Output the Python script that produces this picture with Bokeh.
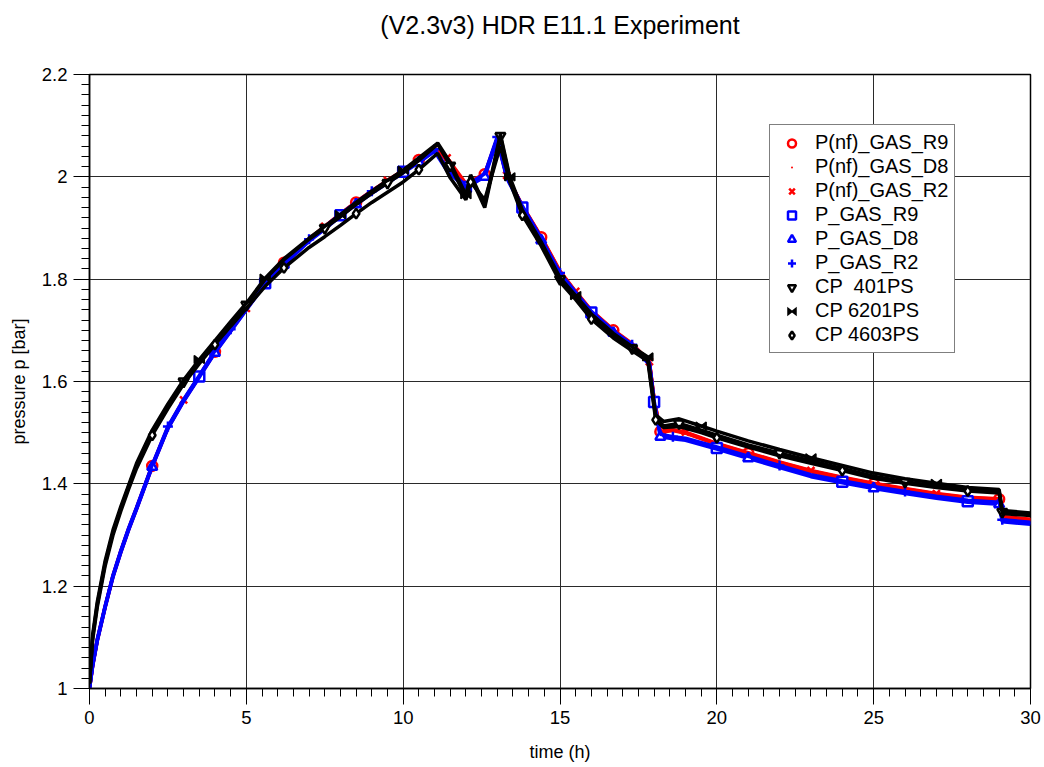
import numpy as np
from bokeh.plotting import figure
from bokeh.models import FixedTicker, Legend, LegendItem, Scatter, CustomJS
from bokeh.embed import file_html
from bokeh.resources import INLINE

TITLE = "(V2.3v3) HDR E11.1 Experiment"
X_LABEL = "time (h)"
Y_LABEL = "pressure p [bar]"
X_TICKS = [0, 5, 10, 15, 20, 25, 30]
X_TICK_LABELS = ["0", "5", "10", "15", "20", "25", "30"]
Y_TICKS = [1.0, 1.2, 1.4, 1.6, 1.8, 2.0, 2.2]
Y_TICK_LABELS = ["1", "1.2", "1.4", "1.6", "1.8", "2", "2.2"]

# simulation time grid (h)
T_SIM = [0.0, 0.1, 0.25, 0.5, 0.75, 1.0, 1.25, 1.5, 2.0, 2.5, 3.0, 3.5, 4.0, 4.5, 5.0,
         5.6, 6.2, 7.0, 7.5, 8.0, 8.5, 9.0, 9.5, 10.0, 10.5, 11.0, 11.4, 12.0, 12.6, 13.0,
         13.3, 13.8, 14.4, 15.0, 15.5, 16.0, 16.7, 17.3, 17.85, 18.0, 18.2, 18.6, 19.0, 20.0, 21.0,
         22.0, 23.0, 24.0, 25.0, 26.0, 27.0, 28.0, 29.0, 29.1, 30.0]

P_NF_GAS_R9 = [1.0, 1.045, 1.095, 1.16, 1.22, 1.268, 1.312, 1.352, 1.435, 1.51, 1.563, 1.61, 1.658, 1.70, 1.742,
               1.793, 1.832, 1.878, 1.902, 1.927, 1.95, 1.972, 1.992, 2.012, 2.033, 2.055, 2.035, 1.985, 2.005, 2.074,
               2.002, 1.943, 1.882, 1.815, 1.775, 1.738, 1.70, 1.673, 1.638, 1.565, 1.502, 1.505, 1.50, 1.478, 1.46,
               1.442, 1.425, 1.412, 1.40, 1.39, 1.38, 1.373, 1.37, 1.335, 1.33]
P_NF_GAS_D8 = [1.0, 1.044, 1.094, 1.159, 1.219, 1.267, 1.311, 1.351, 1.434, 1.509, 1.562, 1.609, 1.657, 1.699, 1.741,
               1.792, 1.831, 1.877, 1.901, 1.926, 1.949, 1.971, 1.991, 2.011, 2.032, 2.054, 2.033, 1.983, 2.004, 2.073,
               2.001, 1.942, 1.881, 1.814, 1.774, 1.737, 1.699, 1.672, 1.637, 1.563, 1.501, 1.504, 1.499, 1.477, 1.459,
               1.441, 1.424, 1.411, 1.399, 1.389, 1.379, 1.372, 1.369, 1.334, 1.329]
P_NF_GAS_R2 = [1.0, 1.046, 1.096, 1.161, 1.221, 1.269, 1.313, 1.353, 1.436, 1.511, 1.564, 1.611, 1.659, 1.701, 1.743,
               1.794, 1.833, 1.879, 1.903, 1.928, 1.951, 1.973, 1.993, 2.013, 2.034, 2.056, 2.037, 1.987, 2.006, 2.075,
               2.003, 1.944, 1.883, 1.816, 1.776, 1.739, 1.701, 1.674, 1.639, 1.566, 1.503, 1.506, 1.501, 1.479, 1.461,
               1.443, 1.426, 1.413, 1.401, 1.391, 1.381, 1.374, 1.371, 1.336, 1.331]
P_GAS_R9 = [1.0, 1.045, 1.095, 1.16, 1.22, 1.268, 1.312, 1.352, 1.435, 1.51, 1.563, 1.61, 1.658, 1.70, 1.742,
            1.792, 1.83, 1.876, 1.90, 1.925, 1.948, 1.97, 1.99, 2.01, 2.03, 2.052, 2.015, 1.98, 2.003, 2.076,
            2.0, 1.94, 1.878, 1.81, 1.772, 1.735, 1.697, 1.67, 1.635, 1.56, 1.495, 1.49, 1.487, 1.47, 1.452,
            1.434, 1.416, 1.404, 1.393, 1.383, 1.374, 1.366, 1.362, 1.328, 1.323]
P_GAS_D8 = [1.0, 1.043, 1.093, 1.158, 1.218, 1.266, 1.31, 1.35, 1.433, 1.508, 1.561, 1.608, 1.656, 1.698, 1.74,
            1.79, 1.828, 1.874, 1.898, 1.923, 1.946, 1.968, 1.988, 2.008, 2.028, 2.05, 2.012, 1.978, 2.0, 2.072,
            1.998, 1.938, 1.876, 1.808, 1.77, 1.733, 1.695, 1.668, 1.633, 1.555, 1.492, 1.488, 1.485, 1.468, 1.45,
            1.432, 1.414, 1.402, 1.391, 1.381, 1.372, 1.364, 1.36, 1.326, 1.321]
P_GAS_R2 = [1.0, 1.047, 1.097, 1.162, 1.222, 1.27, 1.314, 1.354, 1.437, 1.512, 1.565, 1.612, 1.66, 1.702, 1.744,
            1.794, 1.832, 1.878, 1.902, 1.927, 1.95, 1.972, 1.992, 2.012, 2.032, 2.054, 2.018, 1.982, 2.006, 2.078,
            2.003, 1.943, 1.88, 1.812, 1.774, 1.737, 1.699, 1.672, 1.637, 1.562, 1.497, 1.492, 1.489, 1.472, 1.454,
            1.436, 1.418, 1.406, 1.395, 1.385, 1.376, 1.368, 1.364, 1.33, 1.325]

# experiment time grid (h)
T_EXP = [0.0, 0.1, 0.25, 0.5, 0.75, 1.0, 1.25, 1.5, 2.0, 2.5, 3.0, 3.5, 4.0, 4.5, 5.0,
         5.6, 6.2, 7.0, 7.5, 8.0, 8.5, 9.0, 9.5, 10.0, 10.5, 11.1, 11.5, 12.0, 12.15, 12.6,
         13.1, 13.4, 13.8, 14.4, 15.0, 15.5, 16.0, 16.7, 17.3, 17.8, 18.05, 18.3, 18.8, 19.5, 20.0,
         21.0, 22.0, 23.0, 24.0, 25.0, 26.0, 27.0, 28.0, 29.0, 29.1, 30.0]
CP_401PS = [1.01, 1.10, 1.165, 1.245, 1.305, 1.352, 1.395, 1.435, 1.50, 1.552, 1.60, 1.64, 1.677, 1.714, 1.75,
            1.80, 1.838, 1.878, 1.90, 1.922, 1.946, 1.968, 1.988, 2.008, 2.032, 2.064, 2.022, 1.96, 2.0, 1.94,
            2.08, 1.995, 1.93, 1.87, 1.80, 1.765, 1.728, 1.69, 1.665, 1.645, 1.53, 1.513, 1.518, 1.505, 1.495,
            1.476, 1.46, 1.445, 1.43, 1.415, 1.404, 1.396, 1.389, 1.385, 1.345, 1.34]
CP_6201PS = [1.01, 1.105, 1.17, 1.25, 1.31, 1.356, 1.398, 1.44, 1.505, 1.556, 1.603, 1.643, 1.68, 1.717, 1.753,
             1.802, 1.84, 1.88, 1.903, 1.926, 1.95, 1.972, 1.993, 2.013, 2.037, 2.066, 2.028, 1.965, 2.004, 1.945,
             2.083, 2.0, 1.935, 1.873, 1.803, 1.768, 1.732, 1.694, 1.668, 1.648, 1.535, 1.522, 1.527, 1.513, 1.503,
             1.484, 1.467, 1.451, 1.436, 1.421, 1.41, 1.401, 1.393, 1.389, 1.348, 1.343]
CP_4603PS = [1.01, 1.095, 1.16, 1.24, 1.30, 1.347, 1.39, 1.43, 1.495, 1.547, 1.595, 1.635, 1.672, 1.708, 1.743,
             1.786, 1.822, 1.862, 1.883, 1.905, 1.928, 1.95, 1.97, 1.99, 2.014, 2.046, 1.998, 1.955, 1.99, 1.955,
             2.06, 1.99, 1.925, 1.865, 1.795, 1.76, 1.722, 1.685, 1.66, 1.64, 1.525, 1.51, 1.512, 1.50, 1.49,
             1.472, 1.455, 1.44, 1.426, 1.411, 1.401, 1.393, 1.386, 1.382, 1.342, 1.338]

SERIES = [
    ("P(nf)_GAS_R9", T_SIM, P_NF_GAS_R9, "#ff0000", "circle", 0),
    ("P(nf)_GAS_D8", T_SIM, P_NF_GAS_D8, "#ff0000", "dot", 1),
    ("P(nf)_GAS_R2", T_SIM, P_NF_GAS_R2, "#ff0000", "x", 2),
    ("P_GAS_R9", T_SIM, P_GAS_R9, "#0000ff", "square", 3),
    ("P_GAS_D8", T_SIM, P_GAS_D8, "#0000ff", "triangle", 0),
    ("P_GAS_R2", T_SIM, P_GAS_R2, "#0000ff", "cross", 1),
    ("CP  401PS", T_EXP, CP_401PS, "#000000", "inverted_triangle", 2),
    ("CP 6201PS", T_EXP, CP_6201PS, "#000000", "@bowtie", 3),
    ("CP 4603PS", T_EXP, CP_4603PS, "#000000", "diamond", 0),
]

BOWTIE_JS = """
export default (...args) => {
  let ctx = null
  let r = 5
  const scan = (a) => {
    if (a == null || typeof a !== "object") return
    if (typeof a.moveTo === "function" && typeof a.lineTo === "function") { if (ctx == null) ctx = a; return }
    if (a.ctx != null && typeof a.ctx.moveTo === "function") ctx = a.ctx
    if (typeof a.r === "number") r = a.r
  }
  for (const a of args) scan(a)
  if (ctx != null) {
    const h = r * 0.8
    ctx.beginPath()
    ctx.moveTo(-r, -h)
    ctx.lineTo(r, h)
    ctx.lineTo(r, -h)
    ctx.lineTo(-r, h)
    ctx.closePath()
    ctx.fillStyle = "#000000"
    ctx.fill()
    ctx.lineWidth = 1.5
    ctx.strokeStyle = "#000000"
    ctx.stroke()
  }
}
"""
HAS_DEFS = "defs" in Scatter.properties()

FONT = "Liberation Sans"
FRAME_W = 941
FRAME_H = 614

p = figure(frame_width=FRAME_W, frame_height=FRAME_H, x_range=(0, 30), y_range=(1.0, 2.2),
           output_backend="svg", toolbar_location=None,
           min_border_left=89, min_border_right=12, min_border_top=74, min_border_bottom=77)
p.background_fill_color = "white"
p.border_fill_color = "white"
p.outline_line_color = "black"
p.outline_line_width = 1.5

# an empty second line gives the title block the height needed to lift it to the top
p.title.text = TITLE + "\n"
p.title.align = "center"
p.title.vertical_align = "top"
p.title.text_font = FONT
p.title.text_font_size = "25px"
p.title.text_font_style = "normal"
p.title.text_color = "black"
p.title.standoff = 11

p.xaxis.ticker = FixedTicker(ticks=X_TICKS, minor_ticks=list(np.arange(0, 30.01, 0.5)))
p.yaxis.ticker = FixedTicker(ticks=Y_TICKS, minor_ticks=list(np.round(np.arange(1.0, 2.201, 0.02), 2)))
p.xaxis.major_label_overrides = dict(zip(X_TICKS, X_TICK_LABELS))
p.yaxis.major_label_overrides = dict(zip(Y_TICKS, Y_TICK_LABELS))
for ax in (p.xaxis[0], p.yaxis[0]):
    ax.major_tick_out = 16
    ax.major_tick_in = 0
    ax.minor_tick_out = 8
    ax.minor_tick_in = 0
    ax.major_tick_line_color = "black"
    ax.minor_tick_line_color = "black"
    ax.axis_line_color = "black"
    ax.axis_line_width = 1.5
    ax.major_label_text_font = FONT
    ax.major_label_text_font_size = "18.5px"
    ax.major_label_text_color = "black"
    ax.major_label_standoff = 6
    ax.axis_label_text_font = FONT
    ax.axis_label_text_font_size = "18px"
    ax.axis_label_text_font_style = "normal"
    ax.axis_label_text_color = "black"
p.xaxis.axis_label = X_LABEL
p.yaxis.axis_label = Y_LABEL
p.xaxis.axis_label_standoff = 15
p.yaxis.axis_label_standoff = 10

p.xgrid.ticker = FixedTicker(ticks=X_TICKS)
p.ygrid.ticker = FixedTicker(ticks=Y_TICKS)
for g in (p.xgrid[0], p.ygrid[0]):
    g.grid_line_color = "#2a2a2a"
    g.grid_line_width = 1

items = []
for name, t, v, color, marker, off in SERIES:
    p.line(t, v, line_color=color, line_width=3.5)
    idx = list(range(8 + off, len(t) - 1, 4))
    tm = [t[i] for i in idx]
    vm = [v[i] for i in idx]
    fill = color if marker == "dot" else "white"
    if marker == "@bowtie":
        sc = None
        if HAS_DEFS:
            try:
                sc = p.scatter(tm, vm, marker="@bowtie", size=10, line_color=color, line_width=1.5,
                               fill_color="black", defs={"@bowtie": CustomJS(code=BOWTIE_JS)})
            except Exception:
                sc = None
        if sc is None:
            sc = p.scatter(tm, vm, marker="square", size=9, line_color=color, line_width=1.5,
                           fill_color="black")
    else:
        sc = p.scatter(tm, vm, marker=marker, size=10, line_color=color, line_width=2.5,
                       fill_color=fill)
    items.append(LegendItem(label=name, renderers=[sc]))

legend = Legend(items=items, location=(680, 335))
legend.label_text_font = FONT
legend.label_text_font_size = "20px"
legend.label_text_color = "black"
legend.padding = 6
legend.spacing = 1
legend.margin = 0
legend.glyph_width = 31
legend.glyph_height = 20
legend.label_height = 20
legend.label_standoff = 8
legend.border_line_color = "black"
legend.border_line_width = 1.5
legend.background_fill_alpha = 1
p.add_layout(legend)

open("out.html", "w").write(file_html(p, INLINE))
